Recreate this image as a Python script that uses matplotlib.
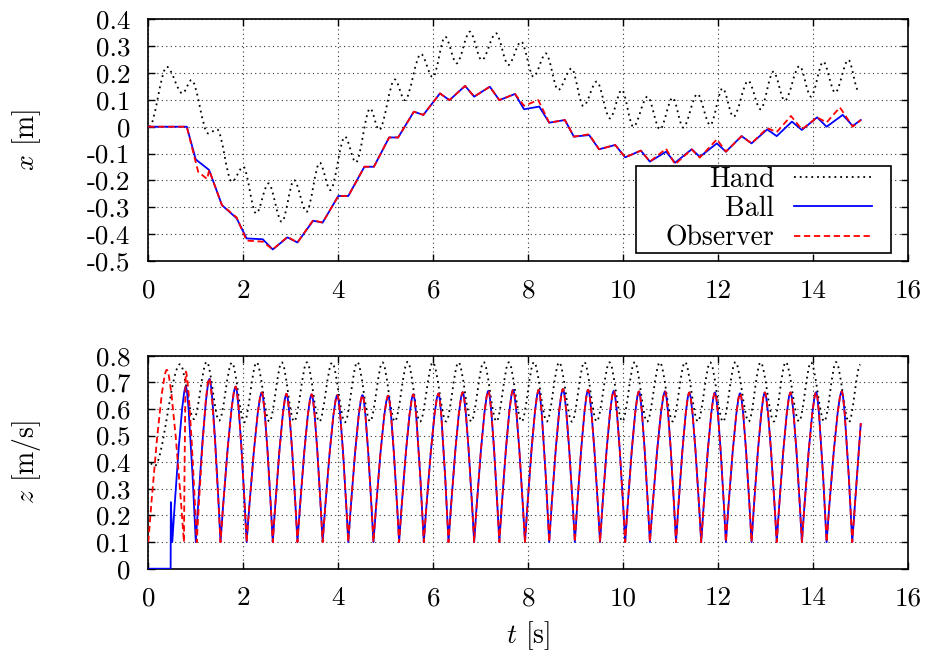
import matplotlib
matplotlib.use('Agg')
import matplotlib.pyplot as plt
from matplotlib.path import Path
from matplotlib.patches import PathPatch, Rectangle
from matplotlib.lines import Line2D

plt.rcParams.update({
    'font.family': 'cmr10',
    'mathtext.fontset': 'cm',
    'axes.unicode_minus': False,
    'axes.formatter.use_mathtext': True,
    'font.size': 19.5,
})

# ---------------- data ----------------
x_ticks = [0, 2, 4, 6, 8, 10, 12, 14, 16]
x_tick_labels = ['0', '2', '4', '6', '8', '10', '12', '14', '16']
top_y_ticks = [-0.5, -0.4, -0.3, -0.2, -0.1, 0.0, 0.1, 0.2, 0.3, 0.4]
top_y_labels = ['-0.5', '-0.4', '-0.3', '-0.2', '-0.1', '0', '0.1', '0.2', '0.3', '0.4']
bot_y_ticks = [0.0, 0.1, 0.2, 0.3, 0.4, 0.5, 0.6, 0.7, 0.8]
bot_y_labels = ['0', '0.1', '0.2', '0.3', '0.4', '0.5', '0.6', '0.7', '0.8']
legend_labels = ['Hand', 'Ball', 'Observer']

# top panel: horizontal position x [m]; hand = extrema of the oscillation
hand_x_t = [0.02, 0.39, 0.72, 0.91, 1.26, 1.45, 1.76, 2.00, 2.27, 2.53, 2.81, 3.07,
            3.33, 3.61, 3.83, 4.14, 4.37, 4.67, 4.86, 5.19, 5.40, 5.74, 5.99, 6.25,
            6.49, 6.77, 7.02, 7.32, 7.58, 7.85, 8.11, 8.37, 8.63, 8.91, 9.16, 9.44,
            9.72, 9.97, 10.21, 10.51, 10.77, 11.04, 11.26, 11.56, 11.83, 12.09, 12.32,
            12.63, 12.89, 13.16, 13.40, 13.71, 13.95, 14.21, 14.46, 14.74, 14.95]
hand_x = [0.0, 0.223, 0.124, 0.174, -0.025, -0.010, -0.205, -0.149, -0.323, -0.211,
          -0.354, -0.199, -0.317, -0.134, -0.236, -0.037, -0.133, 0.068, -0.012, 0.176,
          0.099, 0.271, 0.184, 0.335, 0.236, 0.354, 0.248, 0.348, 0.230, 0.317, 0.186,
          0.273, 0.137, 0.217, 0.077, 0.168, 0.031, 0.137, 0.000, 0.112, -0.010, 0.108,
          -0.003, 0.122, 0.006, 0.143, 0.037, 0.171, 0.065, 0.205, 0.097, 0.226, 0.112,
          0.242, 0.127, 0.249, 0.134]

ball_x_t = [0.0, 0.81, 1.00, 1.28, 1.55, 1.86, 2.07, 2.41, 2.62, 2.93, 3.14, 3.47, 3.67,
            4.00, 4.21, 4.55, 4.75, 5.07, 5.26, 5.59, 5.79, 6.14, 6.34, 6.67, 6.86, 7.19,
            7.39, 7.72, 7.91, 8.23, 8.44, 8.77, 8.96, 9.28, 9.49, 9.83, 10.04, 10.37,
            10.56, 10.90, 11.09, 11.44, 11.61, 11.97, 12.16, 12.49, 12.70, 13.03, 13.23,
            13.55, 13.76, 14.08, 14.28, 14.62, 14.83, 15.00]
ball_x = [0.0, 0.0, -0.122, -0.161, -0.292, -0.341, -0.416, -0.419, -0.457, -0.412,
          -0.431, -0.350, -0.357, -0.258, -0.258, -0.149, -0.149, -0.040, -0.040, 0.056,
          0.044, 0.124, 0.099, 0.152, 0.112, 0.149, 0.099, 0.122, 0.065, 0.075, 0.015,
          0.025, -0.037, -0.031, -0.084, -0.068, -0.114, -0.089, -0.130, -0.093, -0.134,
          -0.084, -0.112, -0.062, -0.093, -0.035, -0.062, -0.010, -0.035, 0.019, -0.012,
          0.035, 0.000, 0.044, 0.003, 0.025]

obs_x_t = [0.0, 0.81, 1.05, 1.24, 1.28, 1.55, 1.86, 2.07, 2.41, 2.62, 2.93, 3.14, 3.47,
           3.67, 4.00, 4.21, 4.55, 4.75, 5.07, 5.26, 5.59, 5.79, 6.14, 6.34, 6.67, 6.86,
           7.19, 7.39, 7.72, 7.91, 8.21, 8.44, 8.77, 8.96, 9.28, 9.49, 9.83, 10.04, 10.37,
           10.56, 10.90, 11.09, 11.44, 11.61, 11.97, 12.16, 12.49, 12.70, 13.03, 13.23,
           13.53, 13.76, 14.08, 14.28, 14.56, 14.83, 15.00]
obs_x = [0.0, 0.0, -0.168, -0.195, -0.161, -0.292, -0.338, -0.424, -0.428, -0.457,
         -0.410, -0.431, -0.348, -0.357, -0.258, -0.258, -0.149, -0.149, -0.040, -0.040,
         0.056, 0.044, 0.124, 0.099, 0.152, 0.112, 0.149, 0.099, 0.122, 0.078, 0.099,
         0.015, 0.025, -0.037, -0.028, -0.084, -0.068, -0.114, -0.089, -0.130, -0.082,
         -0.140, -0.084, -0.115, -0.047, -0.093, -0.035, -0.062, -0.005, -0.020, 0.040,
         -0.010, 0.035, 0.016, 0.072, 0.000, 0.025]

# bottom panel: height z; hand = extrema of the oscillation
hand_z_t = [0.05, 0.13, 0.67, 0.96, 1.23, 1.49, 1.76, 2.02, 2.28, 2.55, 2.81, 3.07,
            3.34, 3.60, 3.87, 4.14, 4.40, 4.67, 4.93, 5.19, 5.46, 5.72, 5.99, 6.27,
            6.53, 6.80, 7.06, 7.33, 7.59, 7.86, 8.12, 8.39, 8.65, 8.92, 9.18, 9.44,
            9.71, 9.98, 10.24, 10.50, 10.77, 11.04, 11.30, 11.57, 11.83, 12.10, 12.36,
            12.64, 12.89, 13.17, 13.42, 13.70, 13.95, 14.23, 14.48, 14.75, 14.99]
hand_z = [0.395, 0.385, 0.768, 0.562, 0.777, 0.556, 0.774, 0.550, 0.775, 0.552,
          0.775, 0.553, 0.775, 0.552, 0.774, 0.550, 0.776, 0.553, 0.775, 0.553,
          0.777, 0.552, 0.775, 0.553, 0.775, 0.553, 0.776, 0.553, 0.775, 0.553,
          0.776, 0.553, 0.775, 0.552, 0.776, 0.553, 0.775, 0.553, 0.776, 0.552,
          0.775, 0.553, 0.776, 0.553, 0.775, 0.552, 0.776, 0.553, 0.775, 0.553,
          0.776, 0.553, 0.775, 0.553, 0.776, 0.550, 0.766]

bounce_floor = 0.1
ball_pre_t = [0.0, 0.47, 0.475, 0.505]
ball_pre_z = [0.0, 0.0, 0.25, 0.1]
ball_bottom_t = [0.505, 1.00, 1.52, 2.07, 2.62, 3.14, 3.67, 4.21, 4.74, 5.28, 5.80,
                 6.32, 6.86, 7.39, 7.93, 8.44, 8.98, 9.51, 10.04, 10.56, 11.11, 11.64,
                 12.16, 12.70, 13.23, 13.76, 14.28, 14.82]
ball_apex_t = [0.79, 1.29, 1.84, 2.39, 2.91, 3.44, 3.98, 4.51, 5.05, 5.58, 6.11, 6.62,
               7.16, 7.68, 8.22, 8.73, 9.26, 9.80, 10.33, 10.88, 11.39, 11.93, 12.46,
               12.98, 13.52, 14.06, 14.60]
ball_apex_z = [0.684, 0.713, 0.684, 0.662, 0.657, 0.655, 0.652, 0.652, 0.650, 0.655,
               0.658, 0.663, 0.668, 0.672, 0.672, 0.675, 0.672, 0.668, 0.666, 0.666,
               0.662, 0.662, 0.659, 0.662, 0.662, 0.663, 0.666]
ball_end_t, ball_end_z = 15.0, 0.547

obs_bottom_t = [0.0, 0.75, 1.02, 1.52, 2.07, 2.62, 3.14, 3.67, 4.21, 4.74, 5.28, 5.80,
                6.32, 6.86, 7.39, 7.93, 8.44, 8.98, 9.51, 10.04, 10.56, 11.11, 11.64,
                12.16, 12.70, 13.23, 13.76, 14.28, 14.82]
obs_apex_t = [0.39, 0.79, 1.28, 1.84, 2.39, 2.91, 3.44, 3.98, 4.51, 5.05, 5.58, 6.11,
              6.62, 7.16, 7.68, 8.22, 8.73, 9.26, 9.80, 10.33, 10.88, 11.39, 11.93,
              12.46, 12.98, 13.52, 14.06, 14.60]
obs_apex_z = [0.747, 0.740, 0.716, 0.684, 0.662, 0.657, 0.655, 0.652, 0.652, 0.650,
              0.655, 0.658, 0.663, 0.668, 0.672, 0.672, 0.675, 0.672, 0.668, 0.666,
              0.666, 0.662, 0.662, 0.659, 0.662, 0.662, 0.663, 0.666]
obs_end_t, obs_end_z = 15.0, 0.547

# ---------------- styles ----------------
HAND_STYLE = dict(color='black', lw=1.3, ls=(0, (1, 2.2)))
BALL_STYLE = dict(color='#0000ff', lw=1.3, ls='-')
OBS_STYLE = dict(color='#ff0000', lw=1.3, ls=(0, (3.5, 2.0)))


def smooth_path(ts, zs):
    """Smooth curve through oscillation extrema (horizontal tangent at each)."""
    verts = [(ts[0], zs[0])]
    codes = [Path.MOVETO]
    for i in range(len(ts) - 1):
        t0, z0, t1, z1 = ts[i], zs[i], ts[i + 1], zs[i + 1]
        dt = t1 - t0
        verts += [(t0 + dt / 3, z0), (t1 - dt / 3, z1), (t1, z1)]
        codes += [Path.CURVE4] * 3
    return Path(verts, codes)


def bounce_path(pre_t, pre_z, bot_t, apex_t, apex_z, floor, end_t, end_z):
    verts, codes = [], []
    if pre_t:
        verts.append((pre_t[0], pre_z[0]))
        codes.append(Path.MOVETO)
        for t, z in zip(pre_t[1:], pre_z[1:]):
            verts.append((t, z))
            codes.append(Path.LINETO)
    else:
        verts.append((bot_t[0], floor))
        codes.append(Path.MOVETO)
    for i, (ta, za) in enumerate(zip(apex_t, apex_z)):
        tb0, tb1 = bot_t[i], bot_t[i + 1]
        verts += [(tb0 + 0.72 * (ta - tb0), za), (ta, za)]
        codes += [Path.CURVE3] * 2
        verts += [(ta + 0.28 * (tb1 - ta), za), (tb1, floor)]
        codes += [Path.CURVE3] * 2
    verts.append((end_t, end_z))
    codes.append(Path.LINETO)
    return Path(verts, codes)


def add_curve(ax, path, style, z):
    ax.add_patch(PathPatch(path, fill=False, edgecolor=style['color'],
                           lw=style['lw'], ls=style['ls'], zorder=z,
                           capstyle='butt', joinstyle='round'))


def style_axes(ax, yticks, ylabels, ylim):
    ax.set_xlim(0, 16)
    ax.set_ylim(*ylim)
    ax.set_xticks(x_ticks)
    ax.set_xticklabels(x_tick_labels)
    ax.set_yticks(yticks)
    ax.set_yticklabels(ylabels)
    ax.tick_params(direction='in', top=True, right=True, length=5, width=1.0,
                   labelsize=19.5)
    ax.tick_params(axis='y', pad=13)
    ax.tick_params(axis='x', pad=13)
    ax.grid(True, color='#333333', lw=0.8, ls=(0, (1, 3)))
    ax.set_axisbelow(True)
    for s in ax.spines.values():
        s.set_linewidth(1.2)


fig = plt.figure(figsize=(9.32, 6.62), dpi=100)
W, H = 932, 662
L, R = 148.3, 908.3
ax1 = fig.add_axes([L / W, 1 - 261 / H, (R - L) / W, (261 - 19.3) / H])
ax2 = fig.add_axes([L / W, 1 - 568.7 / H, (R - L) / W, (568.7 - 355.7) / H])

# top panel
add_curve(ax1, smooth_path(hand_x_t, hand_x), HAND_STYLE, 3)
ax1.plot(ball_x_t, ball_x, color=BALL_STYLE['color'], lw=BALL_STYLE['lw'],
         ls=BALL_STYLE['ls'], zorder=4)
ax1.plot(obs_x_t, obs_x, color=OBS_STYLE['color'], lw=OBS_STYLE['lw'],
         ls=OBS_STYLE['ls'], zorder=5)
style_axes(ax1, top_y_ticks, top_y_labels, (-0.5, 0.4))
ax1.set_ylabel('$x$ [m]', fontsize=20)
ax1.yaxis.set_label_coords(-0.138, 0.5)

# legend: white box with black frame, entries right-aligned (gnuplot style)
ax1.add_patch(Rectangle((0.6417, 0.0319), 0.9768 - 0.6417, 0.3943 - 0.0319,
                        transform=ax1.transAxes, facecolor='white',
                        edgecolor='black', lw=1.2, zorder=9))
handles = [Line2D([], [], color=s['color'], lw=s['lw'], ls=s['ls'])
           for s in (HAND_STYLE, BALL_STYLE, OBS_STYLE)]
leg = ax1.legend(handles, legend_labels, loc='center right',
                 bbox_to_anchor=(0.9518, 0.215), borderaxespad=0,
                 markerfirst=False, handlelength=2.8, handletextpad=0.7,
                 labelspacing=0.12, borderpad=0.0, frameon=False, fontsize=20)
leg.set_zorder(10)

# bottom panel
add_curve(ax2, smooth_path(hand_z_t, hand_z), HAND_STYLE, 3)
add_curve(ax2, bounce_path(ball_pre_t, ball_pre_z, ball_bottom_t, ball_apex_t,
                           ball_apex_z, bounce_floor, ball_end_t, ball_end_z),
          BALL_STYLE, 4)
add_curve(ax2, bounce_path([], [], obs_bottom_t, obs_apex_t, obs_apex_z,
                           bounce_floor, obs_end_t, obs_end_z), OBS_STYLE, 5)
style_axes(ax2, bot_y_ticks, bot_y_labels, (0.0, 0.8))
ax2.set_ylabel('$z$ [m/s]', fontsize=20)
ax2.yaxis.set_label_coords(-0.138, 0.5)
ax2.set_xlabel('$t$ [s]', fontsize=20)
ax2.xaxis.set_label_coords(0.5, -0.235)

fig.savefig('out.png', dpi=100)
